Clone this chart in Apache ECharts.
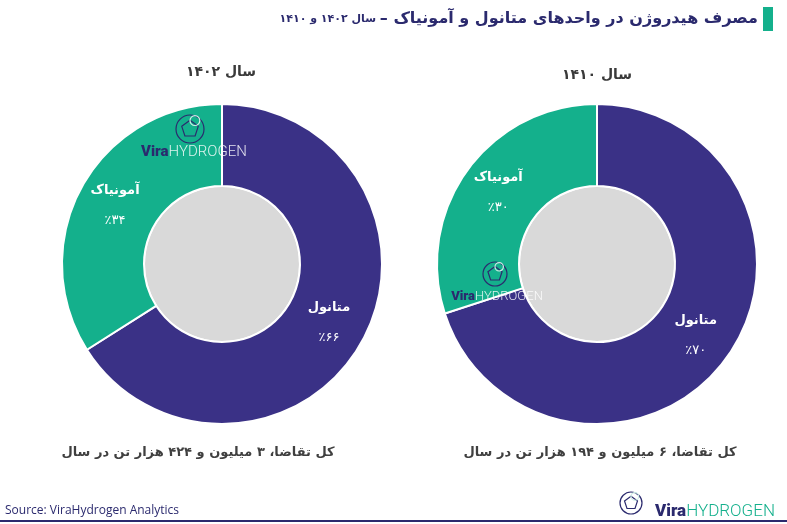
<!DOCTYPE html>
<html>
<head>
<meta charset="utf-8">
<script src="https://cdn.jsdelivr.net/npm/echarts@6/dist/echarts.min.js"></script>
<style>
  html, body { margin: 0; padding: 0; background: #fff; }
  #chart { width: 787px; height: 524px; }
</style>
</head>
<body>
<div id="chart"></div>
<script>
// data
var categories = ['متانول', 'آمونیاک'];
var years = [1402, 1410];
var share1402 = [66, 34];
var share1410 = [70, 30];
var demandMillion = [3, 6];
var demandThousand = [424, 194];

var navy = '#2b2a6e';
var purple = '#3a3186';
var green = '#14b08c';
var fa = 'DejaVu Sans, sans-serif';

function faNum(n) {
    return String(n).replace(/[0-9]/g, function (d) { return '۰۱۲۳۴۵۶۷۸۹'[d]; });
}

function ring(center, values) {
    return {
        type: 'pie',
        center: center,
        radius: [78, 160],
        startAngle: 90,
        clockwise: true,
        silent: true,
        itemStyle: { borderColor: '#fff', borderWidth: 2 },
        label: {
            show: true,
            position: 'inside',
            formatter: function (p) {
                return '{n|' + p.name + '}\n{v|٪' + faNum(p.value) + '}';
            },
            rich: {
                n: { color: '#fff', fontFamily: fa, fontWeight: 'bold', fontSize: 13, lineHeight: 30 },
                v: { color: '#fff', fontFamily: fa, fontSize: 13, lineHeight: 30 }
            }
        },
        labelLine: { show: false },
        data: categories.map(function (c, i) {
            return { name: c, value: values[i], itemStyle: { color: i == 0 ? purple : green } };
        })
    };
}

function hole(center) {
    return {
        type: 'pie',
        center: center,
        radius: [0, 77],
        silent: true,
        label: { show: false },
        itemStyle: { color: '#d9d9d9' },
        data: [1]
    };
}

// small pentagon logo, decoration only
function logo(cx, cy, r) {
    var pts = [];
    for (var k = 0; k < 5; k++) {
        var a = -Math.PI / 2 + k * 2 * Math.PI / 5;
        pts.push([cx + r * 0.62 * Math.cos(a), cy + r * 0.62 * Math.sin(a)]);
    }
    return [
        { type: 'circle', z: 100, shape: { cx: cx, cy: cy, r: r }, style: { fill: 'none', stroke: navy, lineWidth: 1.2 }, silent: true },
        { type: 'polygon', z: 100, shape: { points: pts }, style: { fill: 'none', stroke: navy, lineWidth: 1.2 }, silent: true },
        { type: 'circle', z: 100, shape: { cx: cx + r * 0.35, cy: cy - r * 0.6, r: r * 0.35 }, style: { fill: 'none', stroke: '#cfeee6', lineWidth: 1.2 }, silent: true }
    ];
}

function brand(x, y, size, hydroColor, align) {
    return {
        type: 'text', x: x, y: y, z: 100, silent: true,
        style: {
            text: '{a|Vira}{b|HYDROGEN}',
            align: align, verticalAlign: 'middle',
            rich: {
                a: { fontFamily: 'Roboto, sans-serif', fontWeight: 900, fontSize: size, fill: navy },
                b: { fontFamily: 'Roboto, sans-serif', fontWeight: 300, fontSize: size, fill: hydroColor }
            }
        }
    };
}

var myChart = echarts.init(document.getElementById('chart'));

var graphics = [
    { type: 'rect', shape: { x: 763, y: 7, width: 10, height: 24 }, style: { fill: green }, silent: true },
    {
        type: 'text', x: 758, y: 19, silent: true,
        style: {
            text: '{s|سال ' + faNum(years[0]) + ' و ' + faNum(years[1]) + ' }{b|– مصرف هیدروژن در واحدهای متانول و آمونیاک}',
            align: 'right', verticalAlign: 'middle',
            rich: {
                s: { fontFamily: fa, fontWeight: 'bold', fontSize: 11, fill: navy },
                b: { fontFamily: fa, fontWeight: 'bold', fontSize: 16, fill: navy }
            }
        }
    },
    {
        type: 'text', x: 221, y: 72, silent: true,
        style: { text: 'سال ' + faNum(years[0]), align: 'center', verticalAlign: 'middle', fontFamily: fa, fontWeight: 'bold', fontSize: 14, fill: '#3a3a3a' }
    },
    {
        type: 'text', x: 597, y: 75, silent: true,
        style: { text: 'سال ' + faNum(years[1]), align: 'center', verticalAlign: 'middle', fontFamily: fa, fontWeight: 'bold', fontSize: 14, fill: '#3a3a3a' }
    },
    {
        type: 'text', x: 198, y: 453, silent: true,
        style: { text: 'کل تقاضا، ' + faNum(demandMillion[0]) + ' میلیون و ' + faNum(demandThousand[0]) + ' هزار تن در سال', align: 'center', verticalAlign: 'middle', fontFamily: fa, fontWeight: 'bold', fontSize: 13, fill: '#404040' }
    },
    {
        type: 'text', x: 600, y: 453, silent: true,
        style: { text: 'کل تقاضا، ' + faNum(demandMillion[1]) + ' میلیون و ' + faNum(demandThousand[1]) + ' هزار تن در سال', align: 'center', verticalAlign: 'middle', fontFamily: fa, fontWeight: 'bold', fontSize: 13, fill: '#404040' }
    },
    {
        type: 'text', x: 5, y: 511, silent: true,
        style: { text: 'Source: ViraHydrogen Analytics', align: 'left', verticalAlign: 'middle', fontFamily: 'Open Sans, sans-serif', fontSize: 12, fill: navy }
    },
    { type: 'line', shape: { x1: 0, y1: 521, x2: 787, y2: 521 }, style: { stroke: navy, lineWidth: 2 }, silent: true },
    brand(655, 512, 17, green, 'left'),
    brand(194, 152, 15, 'rgba(255,255,255,0.85)', 'center'),
    brand(497, 297, 13, 'rgba(255,255,255,0.85)', 'center')
];
graphics = graphics.concat(logo(631, 503, 11), logo(190, 129, 14), logo(495, 274, 12));

var option = {
    backgroundColor: '#fff',
    animation: false,
    series: [
        hole([222, 264]),
        hole([597, 264]),
        ring([222, 264], share1402),
        ring([597, 264], share1410)
    ],
    graphic: graphics
};
myChart.setOption(option);
</script>
</body>
</html>
